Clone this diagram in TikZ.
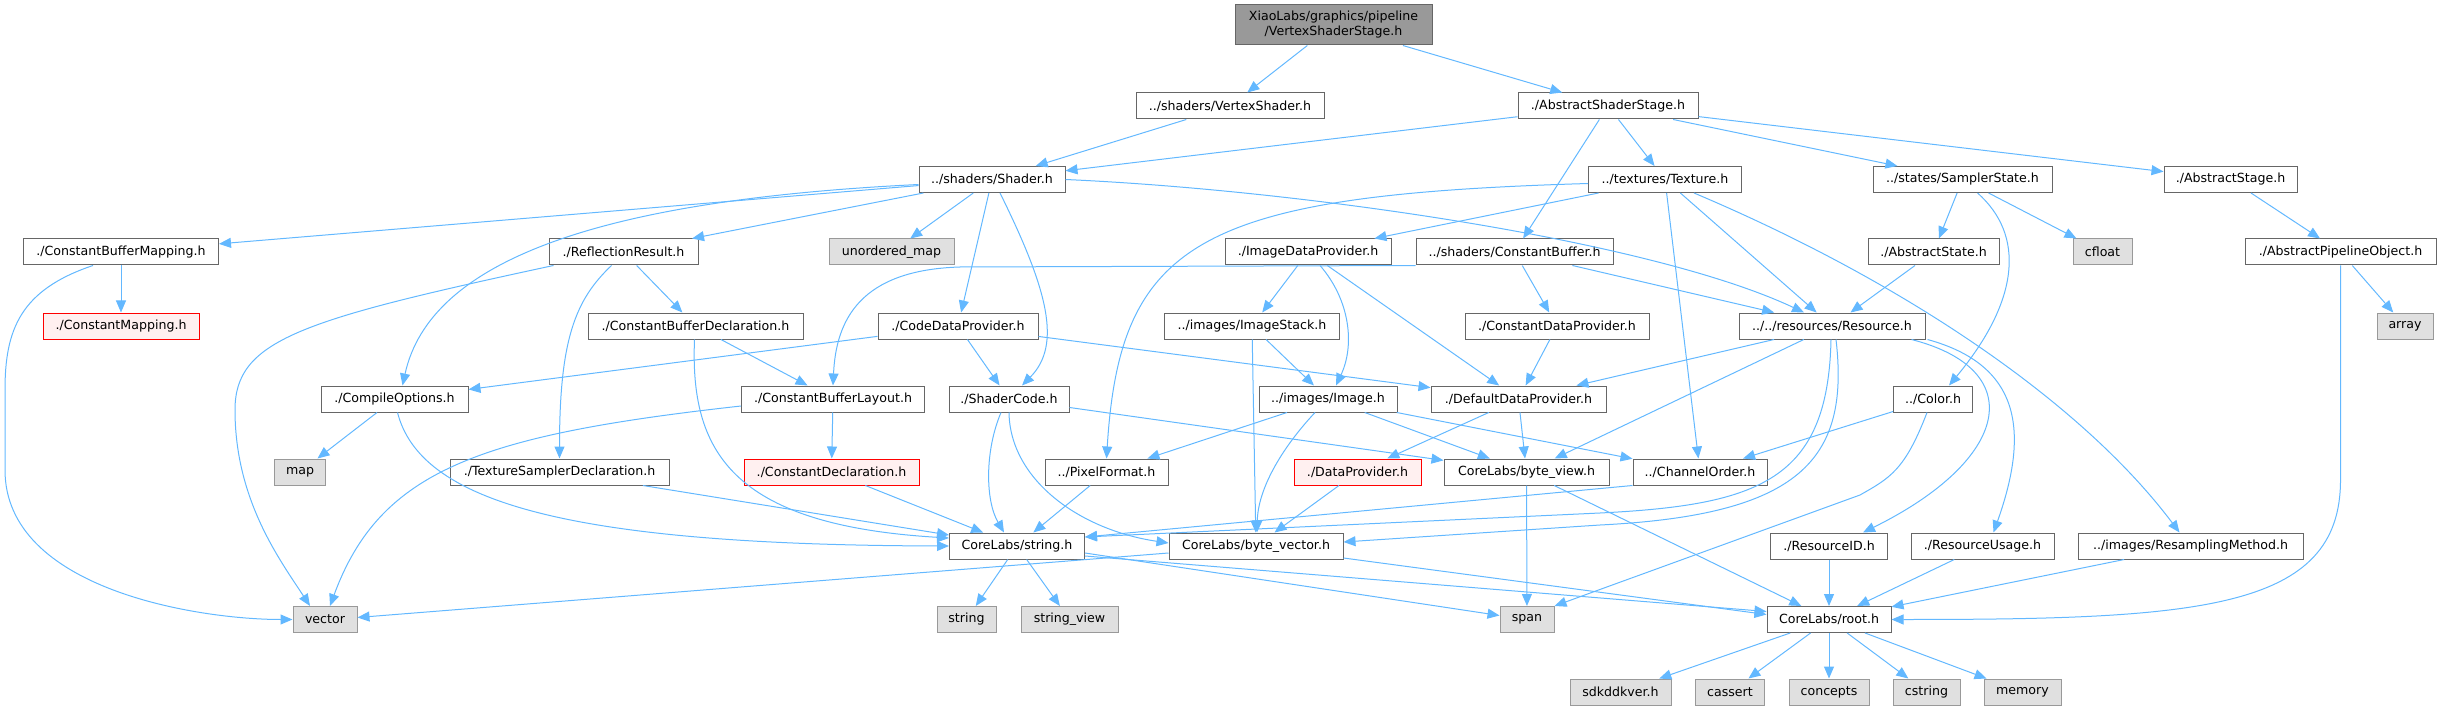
\documentclass[tikz,border=0pt]{standalone}
\usepackage{fontspec}
\setmainfont{DejaVu Sans}
\usetikzlibrary{arrows.meta}
\definecolor{edgeblue}{HTML}{63B8FF}
\definecolor{hdrline}{HTML}{666666}
\definecolor{sysfill}{HTML}{E0E0E0}
\definecolor{sysline}{HTML}{999999}
\definecolor{missfill}{HTML}{FFF0F0}
\definecolor{missline}{HTML}{FF0000}
\definecolor{mainfill}{HTML}{999999}

\begin{document}
\begin{tikzpicture}[
  x=1pt, y=-1pt,
  hdr/.style={draw=hdrline, fill=white, line width=1pt, minimum height=26pt, inner sep=0pt, font=\fontsize{12.6}{15}\selectfont},
  syshdr/.style={hdr, draw=sysline, fill=sysfill},
  badhdr/.style={hdr, draw=missline, fill=missfill},
  mainhdr/.style={hdr, fill=mainfill, minimum height=40pt, align=center},
  dep/.style={edgeblue, line width=1pt, -{Triangle[length=12pt,width=10pt]}}
]
\useasboundingbox (0,0) rectangle (2441,711);

\node[mainhdr, minimum width=197pt] (vss) at (1333.5,25) {XiaoLabs/graphics/pipeline\\/VertexShaderStage.h};

\node[hdr, minimum width=188pt] (vsh) at (1230,106) {../shaders/VertexShader.h};
\node[hdr, minimum width=180pt] (ass) at (1608,106) {./AbstractShaderStage.h};

\node[hdr, minimum width=146pt] (shd) at (992,179.5) {../shaders/Shader.h};
\node[hdr, minimum width=153pt] (tex) at (1665,179.5) {../textures/Texture.h};
\node[hdr, minimum width=179pt] (smp) at (1962.5,179.5) {../states/SamplerState.h};
\node[hdr, minimum width=133pt] (ast) at (2230.5,179.5) {./AbstractStage.h};

\node[hdr, minimum width=195pt] (cbm) at (121,252) {./ConstantBufferMapping.h};
\node[hdr, minimum width=149pt] (rfl) at (623.5,252) {./ReflectionResult.h};
\node[syshdr, minimum width=125pt] (umap) at (891.5,252) {unordered\_map};
\node[hdr, minimum width=166pt] (idp) at (1308,252) {./ImageDataProvider.h};
\node[hdr, minimum width=197pt] (cbuf) at (1514.5,252) {../shaders/ConstantBuffer.h};
\node[hdr, minimum width=131pt] (abst) at (1933.5,252) {./AbstractState.h};
\node[syshdr, minimum width=59pt] (cflt) at (2102.5,252) {cfloat};
\node[hdr, minimum width=191pt] (apo) at (2340.5,252) {./AbstractPipelineObject.h};

\node[badhdr, minimum width=156pt] (cmap) at (121,326) {./ConstantMapping.h};
\node[hdr, minimum width=215pt] (cbdc) at (695.5,326) {./ConstantBufferDeclaration.h};
\node[hdr, minimum width=160pt] (cdp) at (958,326) {./CodeDataProvider.h};
\node[hdr, minimum width=175pt] (istk) at (1252,326) {../images/ImageStack.h};
\node[hdr, minimum width=184pt] (cdtp) at (1557,326) {./ConstantDataProvider.h};
\node[hdr, minimum width=186pt] (res) at (1832,326) {../../resources/Resource.h};
\node[syshdr, minimum width=56pt] (arr) at (2405,326) {array};

\node[hdr, minimum width=147pt] (copt) at (394.5,399) {./CompileOptions.h};
\node[hdr, minimum width=183pt] (cbl) at (833,399) {./ConstantBufferLayout.h};
\node[hdr, minimum width=120pt] (shc) at (1009,399) {./ShaderCode.h};
\node[hdr, minimum width=138pt] (img) at (1328,399) {../images/Image.h};
\node[hdr, minimum width=175pt] (ddp) at (1518.5,399) {./DefaultDataProvider.h};
\node[hdr, minimum width=79pt] (col) at (1933,399) {../Color.h};

\node[syshdr, minimum width=51pt] (map) at (300,472) {map};
\node[hdr, minimum width=219pt] (tsd) at (559.5,472) {./TextureSamplerDeclaration.h};
\node[badhdr, minimum width=175pt] (cdcl) at (831.5,472) {./ConstantDeclaration.h};
\node[hdr, minimum width=123pt] (pxf) at (1106.5,472) {../PixelFormat.h};
\node[badhdr, minimum width=127pt] (dpr) at (1357.5,472) {./DataProvider.h};
\node[hdr, minimum width=165pt] (bvw) at (1526.5,472) {CoreLabs/byte\_view.h};
\node[hdr, minimum width=134pt] (chn) at (1700,472) {../ChannelOrder.h};

\node[hdr, minimum width=135pt] (str) at (1017,546) {CoreLabs/string.h};
\node[hdr, minimum width=174pt] (bvec) at (1256,546) {CoreLabs/byte\_vector.h};
\node[hdr, minimum width=117pt] (rid) at (1829,546) {./ResourceID.h};
\node[hdr, minimum width=143pt] (rus) at (1982.5,546) {./ResourceUsage.h};
\node[hdr, minimum width=225pt] (rsm) at (2190.5,546) {../images/ResamplingMethod.h};

\node[syshdr, minimum width=64pt] (vec) at (325,619.5) {vector};
\node[syshdr, minimum width=59pt] (strg) at (966.5,619.5) {string};
\node[syshdr, minimum width=97pt] (strv) at (1069.5,619.5) {string\_view};
\node[syshdr, minimum width=54pt] (spn) at (1527,619.5) {span};
\node[hdr, minimum width=124pt] (root) at (1829,619.5) {CoreLabs/root.h};

\node[syshdr, minimum width=101pt] (sdk) at (1620.5,692) {sdkddkver.h};
\node[syshdr, minimum width=69pt] (cas) at (1730,692) {cassert};
\node[syshdr, minimum width=80pt] (cnc) at (1829,692) {concepts};
\node[syshdr, minimum width=67pt] (cst) at (1926.5,692) {cstring};
\node[syshdr, minimum width=77pt] (mem) at (2022.5,692) {memory};

\draw[dep] (vss) -- (vsh); \draw[dep] (vss) -- (ass); \draw[dep] (vsh) -- (shd);
\draw[dep] (ass) -- (shd); \draw[dep] (ass) -- (tex); \draw[dep] (ass) -- (smp);
\draw[dep] (ass) -- (ast); \draw[dep] (ass) -- (cbuf);

\draw[dep] (shd) -- (cbm); \draw[dep] (shd) -- (rfl); \draw[dep] (shd) -- (umap);
\draw[dep] (shd) -- (cdp);
\draw[dep] ([xshift=8pt]shd.south) .. controls (1048,290) and (1062,345) .. ([xshift=13pt]shc.north);
\draw[dep] ([yshift=-5pt]shd.west) .. controls (600,200) and (430,260) .. ([xshift=8pt]copt.north);
\draw[dep] (shd.east) .. controls (1300,190) and (1650,240) .. ([xshift=-28pt]res.north);

\draw[dep] (tex) -- (idp); \draw[dep] (tex) -- (res); \draw[dep] (tex) -- (chn);
\draw[dep] ([yshift=-4pt]tex.west) .. controls (1200,195) and (1120,240) .. (pxf.north);
\draw[dep] ([xshift=29pt]tex.south) .. controls (1900,280) and (2080,400) .. ([xshift=-11pt]rsm.north);

\draw[dep] (smp) -- (abst); \draw[dep] (smp) -- (cflt);
\draw[dep] ([xshift=15pt]smp.south) .. controls (2025,235) and (2020,300) .. ([xshift=16pt]col.north);
\draw[dep] (ast) -- (apo); \draw[dep] (apo) -- (arr);
\draw[dep] (apo.south) -- (2340.5,480) .. controls (2340.5,610) and (2200,619.5) .. (root.east);
\draw[dep] (abst) -- (res);

\draw[dep] (cbm) -- (cmap);
\draw[dep] ([xshift=-28pt]cbm.south) .. controls (20,290) and (5,330) .. (5,390) -- (5,470)
  .. controls (5,590) and (200,619.5) .. (vec.west);
\draw[dep] (rfl) -- (cbdc);
\draw[dep] ([xshift=-70pt]rfl.south) .. controls (300,320) and (235,340) .. (235,410)
  .. controls (235,500) and (280,560) .. ([xshift=-15pt]vec.north);
\draw[dep] ([xshift=-12pt]rfl.south) .. controls (575,300) and (559.5,340) .. (tsd.north);

\draw[dep] (cbdc) -- (cbl);
\draw[dep] ([xshift=-1pt]cbdc.south) .. controls (690,450) and (730,525) .. ([yshift=8pt]str.west);
\draw[dep] (cbl) -- (cdcl);
\draw[dep] ([yshift=-7pt]cbl.west) .. controls (480,435) and (380,470) .. ([xshift=5pt]vec.north);
\draw[dep] (cbuf.south west) -- (960,267) .. controls (860,270) and (836,320) .. (cbl.north);
\draw[dep] (cbuf) -- (cdtp); \draw[dep] (cbuf) -- (res);

\draw[dep] (cdp) -- (copt); \draw[dep] (cdp) -- (shc); \draw[dep] (cdp) -- (ddp);
\draw[dep] (copt) -- (map);
\draw[dep] ([xshift=3pt]copt.south) .. controls (420,500) and (560,545) .. (str.west);
\draw[dep] (tsd) -- (str); \draw[dep] (cdcl) -- (str);
\draw[dep] ([xshift=-8pt]shc.south) .. controls (985,450) and (985,500) .. ([xshift=-13pt]str.north);
\draw[dep] (shc.south) .. controls (1010,480) and (1080,530) .. ([yshift=3pt]bvec.west);
\draw[dep] (shc) -- (bvw);

\draw[dep] (idp) -- (istk); \draw[dep] (idp) -- (ddp);
\draw[dep] ([xshift=12pt]idp.south) .. controls (1350,300) and (1355,345) .. ([xshift=8pt]img.north);
\draw[dep] (istk) -- (img); \draw[dep] (istk) -- (bvec);
\draw[dep] (cdtp) -- (ddp);

\draw[dep] (res) -- (ddp); \draw[dep] (res) -- (bvw);
\draw[dep] ([xshift=-1pt]res.south) .. controls (1828,480) and (1760,505) .. (1600,513) -- ([yshift=9pt]str.east);
\draw[dep] ([xshift=4pt]res.south) .. controls (1850,460) and (1800,515) .. (1600,525) -- ([yshift=4pt]bvec.east);
\draw[dep] ([xshift=-14pt]res.south east) .. controls (2030,370) and (2010,460) .. ([xshift=34pt]rid.north);
\draw[dep] ([xshift=2pt]res.south east) .. controls (2020,365) and (2030,430) .. ([xshift=11pt]rus.north);

\draw[dep] (img) -- (pxf); \draw[dep] (img) -- (bvw); \draw[dep] (img) -- (chn);
\draw[dep] ([xshift=-13pt]img.south) .. controls (1280,450) and (1258,490) .. ([xshift=1pt]bvec.north);
\draw[dep] (ddp) -- (dpr); \draw[dep] (ddp) -- (bvw);
\draw[dep] (dpr) -- (bvec); \draw[dep] (pxf) -- (str);
\draw[dep] (bvw) -- (spn); \draw[dep] (bvw) -- (root);
\draw[dep] (col) -- (chn);
\draw[dep] ([xshift=-6pt]col.south) .. controls (1905,470) and (1890,478) .. (1860,495) -- (spn.north east);
\draw[dep] (chn.south west) -- ([yshift=9pt]str.east);

\draw[dep] (str) -- (strg); \draw[dep] (str) -- (strv);
\draw[dep] ([yshift=-7pt]str.east) -- ([yshift=4pt]spn.west);
\draw[dep] ([yshift=-10pt]str.east) -- ([yshift=8pt]root.west);
\draw[dep] ([yshift=-7pt]bvec.west) -- ([yshift=2pt]vec.east);
\draw[dep] ([yshift=-12pt]bvec.east) -- ([yshift=5pt]root.west);
\draw[dep] (rid) -- (root); \draw[dep] (rus) -- (root); \draw[dep] (rsm) -- (root);

\draw[dep] (root) -- (sdk); \draw[dep] (root) -- (cas); \draw[dep] (root) -- (cnc);
\draw[dep] (root) -- (cst); \draw[dep] (root) -- (mem);
\end{tikzpicture}
\end{document}
